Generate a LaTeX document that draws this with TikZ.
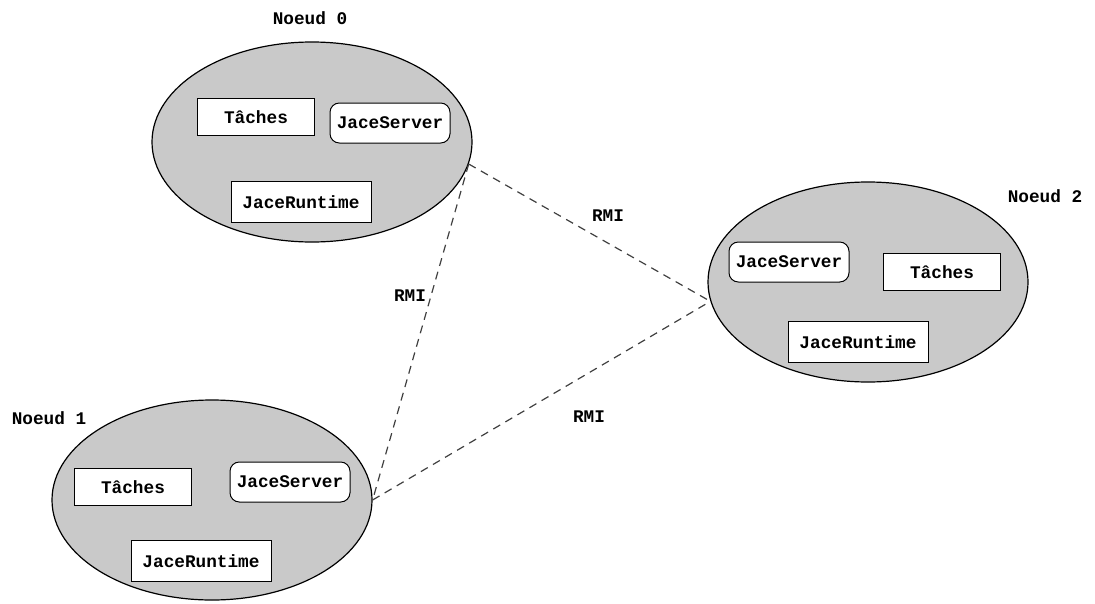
\documentclass[tikz,border=0pt]{standalone}
\usepackage{fontspec}
\setmonofont{Liberation Mono}
\usepackage{tikz}
\usetikzlibrary{positioning, shapes.geometric}

\begin{document}
\begin{tikzpicture}[
    x=0.75pt, y=-0.75pt,
    noeud/.style={ellipse, draw=black, line width=0.9pt, fill=black!21,
                  minimum width=240pt, minimum height=150pt, inner sep=0pt},
    tache/.style={rectangle, draw=black, line width=0.75pt, fill=white,
                  minimum width=88pt, minimum height=28pt, inner sep=0pt, font=\txt},
    serveur/.style={rectangle, rounded corners=7pt, draw=black, line width=0.75pt, fill=white,
                  minimum width=90pt, minimum height=30pt, inner sep=0pt, font=\txt},
    runtime/.style={rectangle, draw=black, line width=0.75pt, fill=white,
                  minimum width=105pt, minimum height=30.4pt, inner sep=0pt, font=\txt},
    lien/.style={dashed, dash pattern=on 6pt off 4.5pt, draw=black!75, line width=0.9pt},
    label/.style={font=\txt, inner sep=1pt}
]
    \providecommand{\txt}{\ttfamily\bfseries\fontsize{13.3}{16}\selectfont}
    \useasboundingbox (0,0) rectangle (1095,603);

    % Noeud 0
    \node[noeud] (n0) at (312, 142) {};
    \node[label] (l0) at (310, 18) {Noeud 0};
    \node[tache] (t0) at (256, 117) {Tâches};
    \node[serveur] (s0) at (390, 123) {JaceServer};
    \node[runtime] (r0) at (301, 202) {JaceRuntime};

    % Noeud 1
    \node[noeud] (n1) at (212, 500) {};
    \node[label] (l1) at (49, 418) {Noeud 1};
    \node[tache] (t1) at (133, 487) {Tâches};
    \node[serveur] (s1) at (290, 482) {JaceServer};
    \node[runtime] (r1) at (201, 561) {JaceRuntime};

    % Noeud 2
    \node[noeud] (n2) at (868, 282) {};
    \node[label] (l2) at (1045, 196) {Noeud 2};
    \node[serveur] (s2) at (789, 262) {JaceServer};
    \node[tache] (t2) at (942, 272) {Tâches};
    \node[runtime] (r2) at (858, 342) {JaceRuntime};

    % Liens RMI
    \draw[lien] (n0.-8) -- (n2.187);
    \draw[lien] (n0.-8) -- (n1.east);
    \draw[lien] (n1.east) -- (n2.187);
    \node[label] (rmi02) at (608, 216) {RMI};
    \node[label] (rmi01) at (410, 296) {RMI};
    \node[label] (rmi12) at (589, 417) {RMI};

\end{tikzpicture}
\end{document}
